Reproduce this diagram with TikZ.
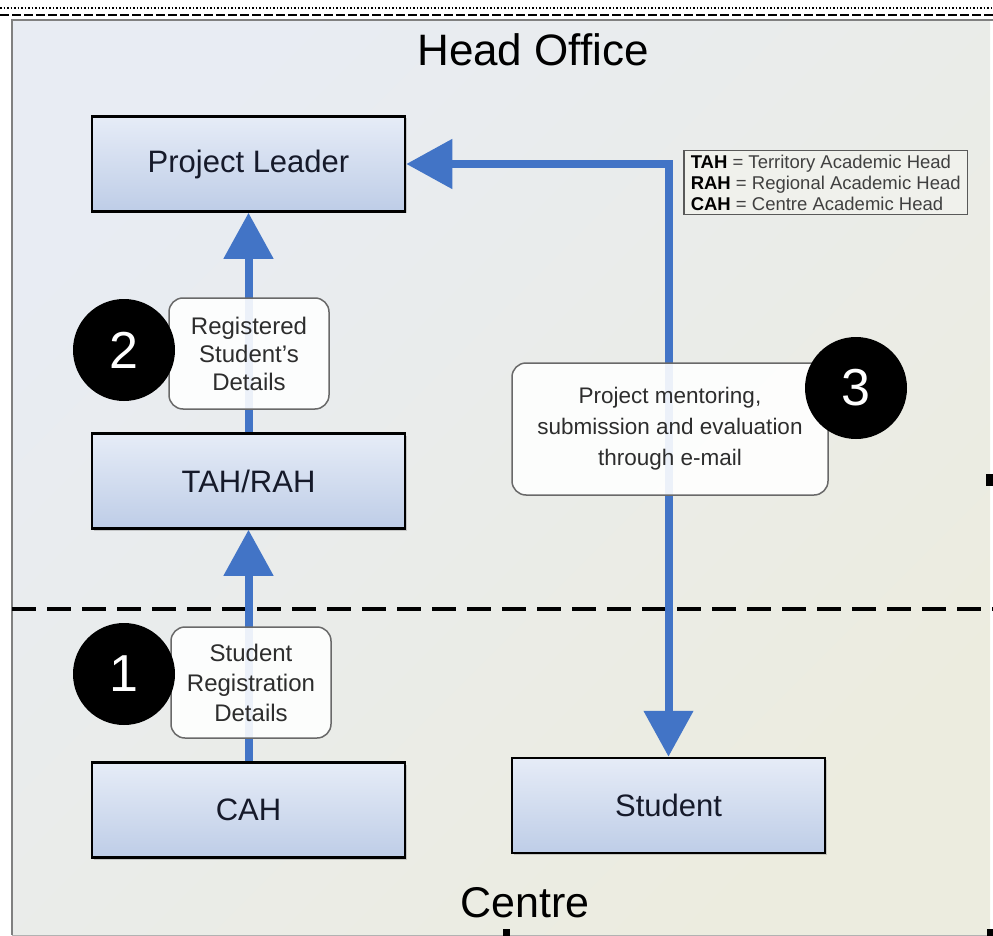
\documentclass[tikz,border=0pt]{standalone}
\usepackage{fontspec}
\setmainfont{Liberation Sans}
\usepackage{tikz}
\usetikzlibrary{arrows.meta,shadows}

\definecolor{flowblue}{RGB}{66,116,198}
\definecolor{boxtop}{RGB}{230,236,247}
\definecolor{boxbottom}{RGB}{190,205,231}
\definecolor{boxtext}{RGB}{22,26,42}
\definecolor{bgleft}{RGB}{232,236,243}
\definecolor{bgright}{RGB}{236,236,223}
\definecolor{tagline}{RGB}{105,105,105}
\definecolor{tagtext}{RGB}{45,45,45}
\definecolor{keyfill}{RGB}{240,241,236}

\tikzset{
	unit/.style={draw=black, line width=2.5pt, minimum width=313pt, minimum height=95pt,
		top color=boxtop, bottom color=boxbottom, text=boxtext,
		drop shadow={shadow xshift=2pt, shadow yshift=-2pt, opacity=0.35},
		font=\fontsize{31}{37}\selectfont},
	tag/.style={draw=tagline, line width=1.5pt, rounded corners=14pt, fill=white,
		fill opacity=0.9, text opacity=1, align=center, text=tagtext},
	badge/.style={circle, fill=black, text=white, minimum size=102pt, inner sep=0pt,
		font=\fontsize{52}{52}\selectfont},
	flow/.style={draw=flowblue, line width=8pt, -{Triangle[length=46pt,width=48pt]}},
}

\begin{document}
\begin{tikzpicture}[x=1pt, y=-1pt]
	\useasboundingbox (0,0) rectangle (993,936);
	% frame and background
	\shade [ left color=bgleft, right color=bgright, shading angle=45 ] (12,20) rectangle (990,935);
	\draw [ dotted, line width=1.5pt ] (0,8) -- (993,8);
	\draw [ dash pattern=on 9pt off 3pt, line width=2pt ] (0,15) -- (993,15);
	\draw [ gray, line width=2pt ] (12,935) -- (12,20) -- (993,20);
	\draw [ gray!60, line width=1pt ] (12,935) -- (990,935);
	\fill (986,474) rectangle (993,486);
	\fill (503,929) rectangle (510,936);
	\fill (987,929) rectangle (993,936);
	% levels
	\node (head) at (533,50) { \fontsize{44}{50}\selectfont Head Office };
	\node (centre) at (525,903) { \fontsize{43}{50}\selectfont Centre };
	\draw [ dash pattern=on 24pt off 11pt, line width=3.5pt ] (12,609) -- (993,609);
	% units
	\node [ unit ] (leader) at (248.5,164) {Project Leader};
	\node [ unit ] (tahrah) at (248.5,481) {TAH/RAH};
	\node [ unit ] (cah) at (248.5,810) {CAH};
	\node [ unit ] (student) at (668.5,805.5) {Student};
	% key
	\node [ anchor=north west, draw=black!65, line width=1.5pt, fill=keyfill, align=left,
		inner xsep=7pt, inner ysep=4pt, text=black!75,
		font=\fontsize{18.5}{21}\selectfont ] (key) at (683,150)
		{ \textbf{\color{black}TAH} = Territory Academic Head \\
		  \textbf{\color{black}RAH} = Regional Academic Head \\
		  \textbf{\color{black}CAH} = Centre Academic Head };
	% flows
	\draw [ flow ] (cah) -- (tahrah);
	\draw [ flow ] (tahrah) -- (leader);
	\draw [ flow, {Triangle[length=46pt,width=48pt]}-{Triangle[length=46pt,width=48pt]} ]
		(leader.east) -| (student.north);
	% steps
	\node [ tag, minimum width=160pt, minimum height=111pt, font=\fontsize{24}{30}\selectfont ]
		(regtag) at (251,682.5) {Student\\Registration\\Details};
	\node [ tag, minimum width=160pt, minimum height=111pt, font=\fontsize{24}{28}\selectfont ]
		(sdtag) at (249,353.5) {Registered\\Student's\\Details};
	\node [ tag, minimum width=316pt, minimum height=132pt, font=\fontsize{22.5}{31}\selectfont ]
		(mailtag) at (670,429) {Project mentoring,\\submission and evaluation\\through e-mail};
	\node [ badge ] (one) at (124,674) {1};
	\node [ badge ] (two) at (124,350) {2};
	\node [ badge ] (three) at (856,388) {3};
\end{tikzpicture}
\end{document}
